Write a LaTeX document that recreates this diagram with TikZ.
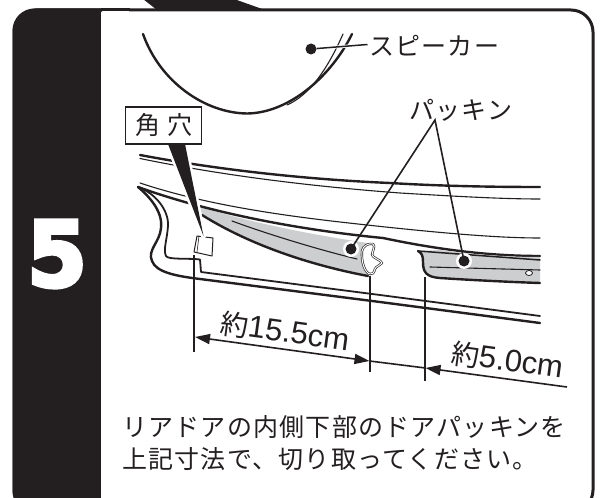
\documentclass[tikz,border=0pt]{standalone}
\usepackage{fontspec}
\setmainfont{Liberation Sans}
\newfontfamily\jpf[LetterSpace=5]{Noto Sans CJK JP}
\newfontfamily\jpb{Noto Sans CJK JP}
\newfontfamily\fivef[FakeBold=4.5]{DejaVu Sans Bold}
\usetikzlibrary{arrows.meta}
\definecolor{ink}{HTML}{231F20}
\definecolor{seal}{HTML}{CDCECF}
\tikzset{
 thk/.style={draw=ink,line width=2.4pt,line cap=round,line join=round},
 thn/.style={draw=ink,line width=1.1pt,line cap=round,line join=round},
 dimline/.style={draw=ink,line width=1.6pt},
 ext/.style={draw=ink,line width=1.8pt},
 jp/.style={inner sep=0pt,text=ink,font=\jpf\fontsize{25}{28}\selectfont},
 lab/.style={inner sep=0pt,text=ink,font=\fontsize{31}{33}\selectfont},
 ddot/.style={circle,fill=ink,inner sep=0pt,minimum size=11pt},
 halo/.style={circle,fill=white,inner sep=0pt,minimum size=16pt},
 dimtip/.style={-{Triangle[length=15pt,width=10pt]}}
}
\begin{document}
\begin{tikzpicture}[x=1pt,y=-1pt]
\useasboundingbox (0,0) rectangle (601,497);
\fill[white] (0,0) rectangle (601,497);
\begin{scope}
\clip (0,0) rectangle (601,497);
% wedge above the panel
\fill[ink] (143,-1) -- (157,10) -- (265,10) -- (234,-1) -- cycle;
% frame and black panel
\draw[ink,line width=3pt,fill=white,rounded corners=22pt] (14,10) rectangle (593,512);
\fill[ink,rounded corners=22pt] (12.5,8.5) -- (12.5,513) -- (125,513) -- (125,8.5) -- cycle;
\fill[white,rounded corners=2pt] (101,11) rectangle (130,520);
\draw[ink,line width=3pt] (101,9.7) -- (130,9.7);
\end{scope}
\node[inner sep=0pt,text=white,font=\fivef\fontsize{86}{86}\selectfont,yscale=1.05] (five) at (57,254) {5};
% speaker
\draw[thk] (143,34) .. controls (160,82) and (205,113) .. (247,113.5) .. controls (290,113) and (332,75) .. (352,34);
\draw[thn] (287,105) .. controls (310,95) and (328,68) .. (343,34);
% upper door lines
\draw[thk] (140,155) .. controls (230,172) and (320,180) .. (390,183) .. controls (440,186) and (490,187) .. (540,187);
\draw[thn] (140,158.5) .. controls (230,177) and (320,187) .. (400,193) .. controls (450,196) and (500,199) .. (540,199);
\draw[thn] (140,183) .. controls (200,203) and (270,214) .. (340,222) .. controls (420,231) and (490,238) .. (540,238);
% seal 1
\path[fill=seal] (200,207) .. controls (260,225) and (320,236) .. (368,243) -- (368,276) .. controls (310,265) and (250,245) .. (202,215) -- cycle;
\draw[thk] (138,187) .. controls (210,213) and (300,230) .. (383,238) .. controls (440,250) and (490,256) .. (540,256);
\draw[thk] (202,215) .. controls (250,245) and (310,265) .. (368,276);
\draw[thn] (232,221) .. controls (270,235) and (320,250) .. (357,259);
% body outline
\draw[thk] (138,187) .. controls (150,197) and (163,212) .. (161,228) .. controls (160,242) and (147,250) .. (152,261) .. controls (156,272) and (175,276) .. (200,279) -- (380,302) -- (540,323);
\draw[thk,line width=1.8pt] (138,187) .. controls (155,193) and (169,210) .. (168,226) .. controls (167,240) and (163,250) .. (166,256) .. controls (168,260) and (190,258) .. (200,259.5) -- (201,272) -- (380,295) -- (540,316);
% square hole
\draw[ink,line width=1pt,fill=white,line join=round] (197,236) -- (213,238) -- (212,256) -- (194,252) -- cycle;
\draw[ink,line width=0.6pt] (199,236) -- (197,252);
% seal 2
\path[fill=seal] (418,251) -- (440,250) .. controls (480,255) and (510,257) .. (540,257) -- (540,283) .. controls (510,282) and (470,280) .. (440,278) .. controls (430,277) and (423,273) .. (423,268) -- (423,258) -- cycle;
\draw[thk] (418,251) .. controls (422,253) and (423,256) .. (423,262) .. controls (423,272) and (426,277) .. (440,278) .. controls (470,280) and (510,282) .. (540,283);
\draw[thk,line width=1.5pt] (418,251) -- (540,260);
\draw[thn] (430,267) -- (540,270);
\draw[ink,line width=0.8pt,fill=white] (529,273) ellipse (3.5pt and 2.5pt);
% profile of the cut seal
\draw[ink,line width=2.3pt,fill=white,line join=round] (362,251) .. controls (363,246) and (368,243) .. (373,244) .. controls (376,246) and (372,252) .. (372,255) .. controls (373,258) and (381,260) .. (382,263) .. controls (380,266) and (376,266) .. (375,269) .. controls (374,273) and (372,275) .. (370,274) .. controls (365,273) and (361,262) .. (362,251) -- cycle;
\draw[white,line width=1pt,line join=round] (362,251) .. controls (363,246) and (368,243) .. (373,244) .. controls (376,246) and (372,252) .. (372,255) .. controls (373,258) and (381,260) .. (382,263) .. controls (380,266) and (376,266) .. (375,269) .. controls (374,273) and (372,275) .. (370,274) .. controls (365,273) and (361,262) .. (362,251) -- cycle;
% label box and its pointer
\coordinate (holetip) at (203.5,236);
\coordinate (wl) at (168,144);
\coordinate (wr) at (185,144);
\draw[white,line width=5pt,line join=round] (wl) -- (holetip) -- (wr);
\fill[ink] (wl) -- (holetip) -- (wr) -- cycle;
\node[draw=ink,fill=white,line width=1.5pt,minimum width=76pt,minimum height=37pt,inner sep=0pt,text=ink,font=\jpb\fontsize{25}{28}\selectfont] (box) at (163.5,125.5) {角\hspace{7pt}穴};
% dimension extension lines
\coordinate (e1a) at (194,255); \coordinate (e1b) at (194,352);
\coordinate (e2a) at (370,276); \coordinate (e2b) at (370,372);
\coordinate (e3a) at (425,277); \coordinate (e3b) at (425,381);
\draw[ext] (e1a) -- (e1b);
\draw[ext] (e2a) -- (e2b);
\draw[ext] (e3a) -- (e3b);
% dimension lines
\coordinate (d1) at (195,337); \coordinate (d2) at (369.5,361);
\coordinate (d3) at (425.5,368); \coordinate (d4) at (567,387);
\coordinate (dm) at (280,348.7);
\draw[dimline,dimtip] (dm) -- (d1);
\draw[dimline,dimtip] (dm) -- (d2);
\draw[dimline,dimtip] (d4) -- (d3);
\draw[dimline] (d2) -- (d3);
% seal dots and leaders
\coordinate (apex) at (435,120);
\node[halo] (h1) at (351,249) {};
\node[halo] (h2) at (464,261) {};
\draw[draw=ink,line width=1.6pt,line join=miter] (351,249) -- (apex) -- (464,261);
\node[ddot] (dot1) at (h1) {};
\node[ddot] (dot2) at (h2) {};
% speaker leader
\node[ddot] (dot3) at (311,49) {};
\coordinate (spk) at (367.5,44.5);
\draw[white,line width=3pt] (330,47.5) -- (spk);
\draw[draw=ink,line width=1.5pt] (dot3) -- (spk);
% texts
\node[jp,anchor=west] (t1) at (369,46) {スピーカー};
\node[jp,anchor=west] (t2) at (409,110) {パッキン};
\node[lab,anchor=base west,rotate=-7.8] (t3) at (219,333) {{\jpb\fontsize{28}{30}\selectfont 約}15.5cm};
\node[lab,anchor=base west,rotate=-7.8] (t4) at (450,363) {{\jpb\fontsize{28}{30}\selectfont 約}5.0cm};
\node[jp,anchor=west] (t5) at (122,427) {リアドアの内側下部のドアパッキンを};
\node[jp,anchor=west] (t6) at (122,459) {上記寸法で、切り取ってください。};
\end{tikzpicture}
\end{document}
